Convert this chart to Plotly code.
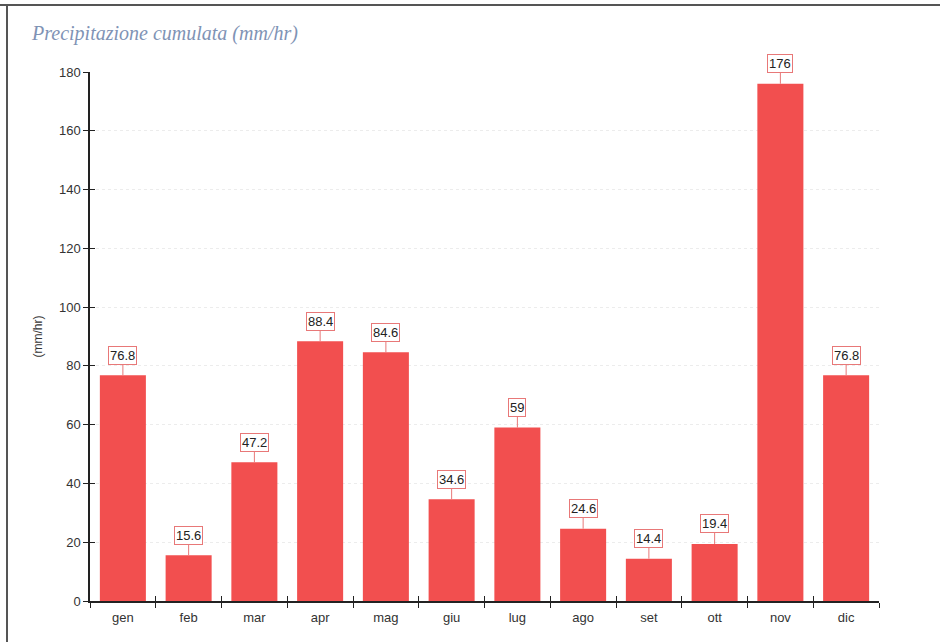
import plotly.graph_objects as go

# Monthly cumulative precipitation (mm/hr)
months = ["gen", "feb", "mar", "apr", "mag", "giu", "lug", "ago", "set", "ott", "nov", "dic"]
values = [76.8, 15.6, 47.2, 88.4, 84.6, 34.6, 59, 24.6, 14.4, 19.4, 176, 76.8]
y_ticks = [0, 20, 40, 60, 80, 100, 120, 140, 160, 180]

BAR = "#f24f4f"
AXIS = "#222222"
SANS = "Liberation Sans, Arial, sans-serif"
TICKFONT = dict(family=SANS, size=13, color="#333333")

fig = go.Figure()
fig.add_trace(go.Bar(
    x=months, y=values, width=0.7,
    marker=dict(color=BAR, line=dict(width=0)),
    hoverinfo="skip", showlegend=False,
))

# anchor an empty trace to the overlay axes so their ticks render
fig.add_trace(go.Scatter(x=[None], y=[None], xaxis="x2", yaxis="y2",
                         showlegend=False, hoverinfo="skip"))

# value labels in small framed boxes above each bar
for m, v in zip(months, values):
    fig.add_annotation(
        x=m, y=v, xref="x", yref="y",
        text=f"{v:g}", showarrow=True, ax=0, ay=-20,
        arrowhead=0, arrowwidth=1, arrowcolor="#e87878", standoff=0,
        font=dict(family=SANS, size=13, color="#222222"),
        bgcolor="white", bordercolor="#e87878", borderwidth=1, borderpad=1,
    )

fig.add_annotation(
    text="Precipitazione cumulata (mm/hr)", xref="paper", yref="paper",
    x=-61/789, y=1 + 38/529, xanchor="left", yanchor="middle", showarrow=False,
    font=dict(family="Liberation Serif, Times New Roman, serif", size=20,
              color="#7f93b5", style="italic"),
)

fig.update_layout(
    width=940, height=642,
    margin=dict(l=90, r=61, t=72, b=41),
    paper_bgcolor="white", plot_bgcolor="white",
    xaxis=dict(
        type="category", showgrid=False, zeroline=False,
        showline=True, linecolor=AXIS, linewidth=1.5,
        ticks="outside", ticklen=5, tickcolor=AXIS, tickson="boundaries",
        tickfont=TICKFONT, range=[-0.5, 11.5], ticklabelstandoff=4,
    ),
    yaxis=dict(
        range=[0, 180], tickvals=y_ticks, showgrid=True,
        gridcolor="#ececec", griddash="dot", gridwidth=1, zeroline=False,
        showline=True, linecolor=AXIS, linewidth=1.5,
        ticks="outside", ticklen=5, tickcolor=AXIS, tickfont=TICKFONT,
        title=dict(text="(mm/hr)", font=dict(family=SANS, size=12, color="#333333"),
                   standoff=14),
    ),
    # overlay axes supply the inner half of the crossing tick marks
    xaxis2=dict(overlaying="x", range=[-0.5, 11.5], tickvals=[i - 0.5 for i in range(13)],
                ticks="inside", ticklen=5, tickcolor=AXIS, showticklabels=False,
                showgrid=False, zeroline=False, showline=False),
    yaxis2=dict(overlaying="y", range=[0, 180], tickvals=y_ticks,
                ticks="inside", ticklen=5, tickcolor=AXIS, showticklabels=False,
                showgrid=False, zeroline=False, showline=False),
    # frame lines along the top and left edges
    shapes=[
        dict(type="line", xref="paper", yref="paper", x0=-90/789, x1=1 + 61/789,
             y0=1 + 67/529, y1=1 + 67/529, line=dict(color="#555555", width=2)),
        dict(type="line", xref="paper", yref="paper", x0=-83/789, x1=-83/789,
             y0=-41/529, y1=1 + 67/529, line=dict(color="#555555", width=2)),
    ],
)

fig.write_html("out.html")
